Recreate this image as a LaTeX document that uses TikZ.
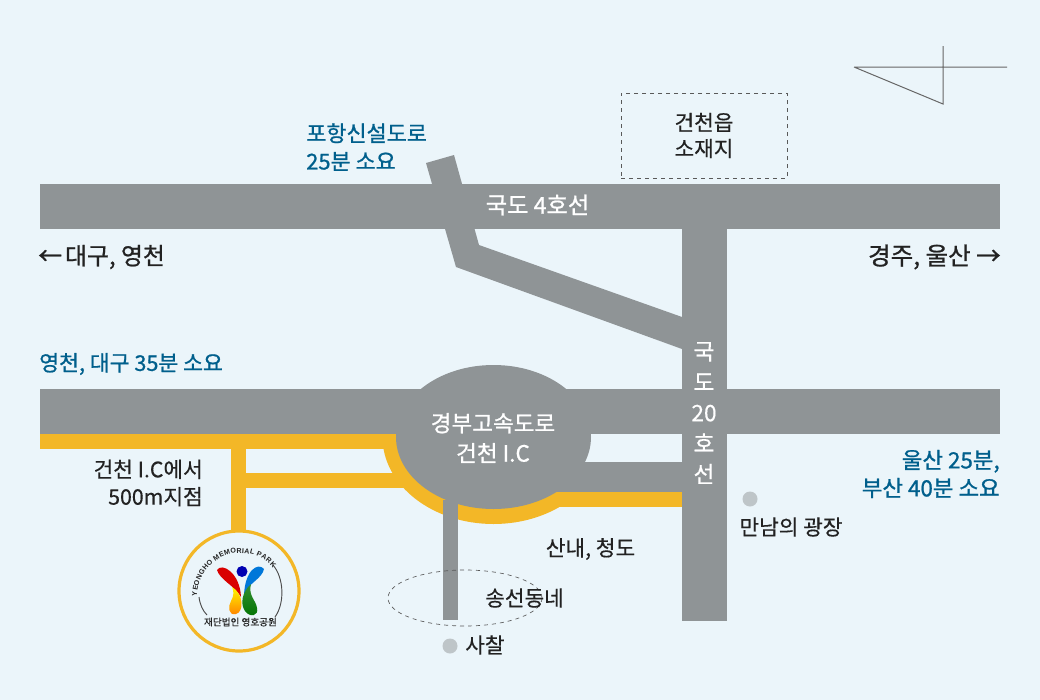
\documentclass[tikz,border=0pt]{standalone}
\usepackage{fontspec}
\setmainfont{Noto Sans CJK KR}
\newfontfamily\labelfont[FakeBold=0.4]{Noto Sans CJK KR}
\newfontfamily\strongfont[FakeBold=0.9]{Noto Sans CJK KR}
\newfontfamily\logofont{Liberation Sans Bold}
\usetikzlibrary{decorations.text}
\definecolor{mapbg}{HTML}{EBF5FA}
\definecolor{roadgray}{HTML}{8F9496}
\definecolor{rampyellow}{HTML}{F3B727}
\definecolor{spotgray}{HTML}{BEC5C8}
\definecolor{labelblue}{HTML}{005F8C}
\definecolor{labeldark}{HTML}{222222}
\tikzset{
  road/.style={fill=roadgray},
  ramp/.style={fill=rampyellow},
  txt/.style={font=\labelfont\fontsize{16}{21}\selectfont, inner sep=0pt, text=labeldark},
  strong txt/.style={font=\strongfont\fontsize{#1}{21}\selectfont, inner sep=0pt, text=labeldark},
  blue txt/.style={strong txt=#1, text=labelblue},
  white txt/.style={strong txt=#1, text=white, align=center},
  spot/.style={circle, fill=spotgray, minimum size=15*0.75pt, inner sep=0pt}
}

\begin{document}
\begin{tikzpicture}[x=0.75pt, y=-0.75pt]
  \fill[mapbg] (0,0) rectangle (1040,700);
  \useasboundingbox (0,0) rectangle (1040,700);

  \draw[black!60, line width=0.75pt] (854,67) -- (1007,67) (943,46) -- (943,104) -- (854,67);
  \node[draw=black!65, dashed, line width=0.6pt, minimum width=166*0.75pt, minimum height=85*0.75pt, align=center,
    txt, font=\labelfont\fontsize{16}{19.5}\selectfont] (office) at (704,135.5) {건천읍\\소재지};

  \path[ramp] (40,434) rectangle (400,449);
  \path[ramp] (231,449) rectangle (246,532);
  \path[ramp] (246,473) rectangle (410,488);
  \path[ramp] (555,492) rectangle (682,507);
  \begin{scope}
    \clip (380,449) rectangle (562,530);
    \path[ramp] (493.5,437) ellipse [x radius=111, y radius=87];
  \end{scope}

  \path[road] (40,184) rectangle (1000,229);
  \path[road] (426,163) -- (454,155) -- (479,245) -- (682,317) -- (682,349) -- (456,267) -- cycle;
  \path[road] (40,389) rectangle (1000,434);
  \path[road] (550,462) rectangle (682,492);
  \path[road] (493.5,437) ellipse [x radius=97.5, y radius=72];
  \path[road] (443,500) rectangle (458,620);
  \path[road] (682,229) rectangle (727,621);

  \draw[black!65, dashed, line width=0.5pt] (465,598) ellipse [x radius=77, y radius=28];

  \node[blue txt=16.4, anchor=west, align=left] (pohang) at (306,147) {포항신설도로\\25분 소요};
  \node[white txt=17.4] (route4) at (537.5,205) {국도 4호선};
  \node[strong txt=17.9, anchor=west] (daegu) at (38,257) {←\hspace{-0.1em} 대구, 영천};
  \node[strong txt=18.4, anchor=east] (ulsan) at (1001,257) {경주, 울산 →};
  \node[blue txt=16.2, anchor=west] (time35) at (39,364) {영천, 대구 35분 소요};
  \node[white txt=16.9, font=\strongfont\fontsize{16.9}{22.5}\selectfont] (exit) at (493,438) {경부고속도로\\건천 I.C};
  \node[white txt=17, font=\labelfont\fontsize{17}{23}\selectfont] (route20) at (704,413) {국\\도\\20\\호\\선};
  \node[blue txt=16.8, anchor=east, align=right] (time25) at (1000,474) {울산 25분,\\부산 40분 소요};
  \node[txt, anchor=east, align=right, font=\labelfont\fontsize{16}{20.5}\selectfont] (point) at (203,483) {건천 I.C에서\\500m지점};
  \node[txt] (sannae) at (590.5,549) {산내, 청도};
  \node[txt] (songseon) at (524.5,598) {송선동네};
  \node[spot] (plazadot) at (750,499) {};
  \node[txt] (plaza) at (791,527) {만남의 광장};
  \node[spot] (templedot) at (450,646) {};
  \node[txt, anchor=west] (temple) at (465,645) {사찰};

  \node[circle, draw=rampyellow, fill=mapbg, line width=2.4pt, minimum size=120*0.75pt, inner sep=0pt] (logo) at (239,591) {};
  \draw[black!70, line width=0.7pt] (199,597) .. controls (200,605) and (203,611) .. (207,615);
  \draw[black!70, line width=0.7pt] (273,565) .. controls (284,578) and (285,603) .. (275,617);
  \path[decorate, decoration={text along path, text align=fit to path,
    text={|\logofont\fontsize{5.3}{6}\selectfont\color{labeldark}|YEONGHO MEMORIAL PARK}}]
    (197,596) .. controls (197,575) and (215,553) .. (240,553) .. controls (252,553) and (265,558) .. (273,568);
  \fill[blue!70!black] (242,571.5) circle [radius=5.5];
  \fill[red!85!black] (217,570) .. controls (222,562) and (240,573) .. (241,597) .. controls (234,585) and (220,580) .. (217,570) -- cycle;
  \fill[blue!45!cyan!85!black] (264,569) .. controls (258,562) and (245,570) .. (244,595) .. controls (248,583) and (262,579) .. (264,569) -- cycle;
  \shade[top color=yellow!95!orange, bottom color=orange] (232,587) .. controls (244,594) and (244,612) .. (236,614) .. controls (228,616) and (228,606) .. (231,601) .. controls (234,596) and (234,591) .. (232,587) -- cycle;
  \shade[top color=green!45!black!80!white, bottom color=green!45!black] (251,584) .. controls (242,592) and (240,604) .. (245,611) .. controls (250,618) and (259,616) .. (257,608) .. controls (256,600) and (248,596) .. (251,584) -- cycle;
  \node[txt, font=\labelfont\fontsize{7.2}{8}\selectfont] (logotext) at (240.5,622) {재단법인 영호공원};
\end{tikzpicture}
\end{document}
